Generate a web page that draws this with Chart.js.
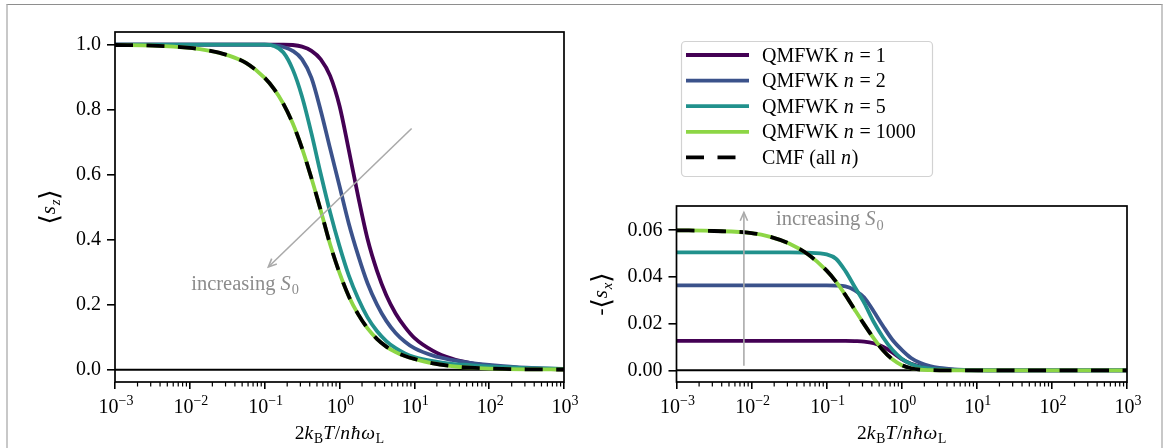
<!DOCTYPE html>
<html><head><meta charset="utf-8">
<script src="https://cdn.jsdelivr.net/npm/chart.js@4.4.1/dist/chart.umd.min.js"></script>
<style>
html,body{margin:0;padding:0;background:#fff;}
body{width:1167px;height:448px;overflow:hidden;position:relative;}
#frame{position:absolute;left:6px;top:4px;width:1153px;height:470px;border-top:1px solid #8e8e8e;border-left:2px solid #c8c8c8;border-right:2px solid #c8c8c8;}
.wrap{position:absolute;top:0;height:448px;}
</style></head>
<body>
<div id="frame"></div>
<div class="wrap" style="left:0;width:600px"><canvas id="c1"></canvas></div>
<div class="wrap" style="left:570px;width:597px"><canvas id="c2"></canvas></div>
<script>
// ---------- data ----------
const T = [0.001,0.00316,0.01,0.0178,0.0316,0.0562,0.1,0.133,0.178,0.237,0.316,0.422,0.562,0.75,1,1.33,1.78,2.37,3.16,4.22,5.62,7.5,10,17.8,31.6,56.2,100,316,1000];

const SZ_N1    = [1.000,1.000,1.000,1.000,1.000,1.000,1.000,1.000,1.000,0.999,0.994,0.981,0.955,0.904,0.812,0.676,0.532,0.402,0.305,0.229,0.173,0.131,0.098,0.058,0.034,0.020,0.012,0.004,0.001];
const SZ_N2    = [1.000,1.000,1.000,1.000,1.000,1.000,1.000,0.998,0.993,0.981,0.955,0.898,0.797,0.680,0.565,0.450,0.351,0.266,0.201,0.150,0.113,0.086,0.066,0.043,0.030,0.021,0.015,0.006,0.002];
const SZ_N5    = [1.000,1.000,1.000,1.000,1.000,1.000,1.000,0.996,0.976,0.924,0.840,0.727,0.602,0.484,0.380,0.290,0.218,0.161,0.119,0.088,0.066,0.050,0.039,0.026,0.018,0.014,0.010,0.005,0.002];
const SZ_N1000 = [0.999,0.997,0.990,0.982,0.968,0.944,0.898,0.864,0.818,0.758,0.681,0.589,0.490,0.385,0.298,0.226,0.170,0.127,0.095,0.071,0.054,0.042,0.033,0.019,0.011,0.006,0.0034,0.0011,0.0004];
const SZ_CMF   = [0.999,0.997,0.990,0.982,0.968,0.944,0.898,0.864,0.818,0.758,0.681,0.589,0.490,0.385,0.298,0.226,0.170,0.127,0.095,0.071,0.054,0.042,0.033,0.019,0.011,0.006,0.0034,0.0011,0.0004];

const SX_N1    = [0.0126,0.0126,0.0126,0.0126,0.0126,0.0126,0.0126,0.0126,0.0126,0.0125,0.0123,0.0116,0.0101,0.0077,0.0048,0.0028,0.0016,0.0009,0.0005,0.0003,0.0002,0.0001,0,0,0,0,0,0,0];
const SX_N2    = [0.0364,0.0364,0.0364,0.0364,0.0364,0.0364,0.0364,0.0363,0.0360,0.0343,0.0312,0.0253,0.0190,0.0131,0.0088,0.0053,0.0031,0.0018,0.0010,0.0006,0.0003,0.0002,0.0001,0,0,0,0,0,0];
const SX_N5    = [0.0505,0.0505,0.0505,0.0505,0.0505,0.0504,0.0497,0.0478,0.0425,0.0357,0.0289,0.0208,0.0142,0.0088,0.0050,0.0027,0.0014,0.0007,0.0004,0.0002,0.0001,0,0,0,0,0,0,0,0];
const SX_N1000 = [0.0600,0.0597,0.0588,0.0572,0.0543,0.0497,0.0427,0.0380,0.0322,0.0259,0.0197,0.0138,0.0086,0.0047,0.0022,0.0009,0.0003,0.0001,0,0,0,0,0,0,0,0,0,0,0];
const SX_CMF   = [0.0600,0.0597,0.0588,0.0572,0.0543,0.0497,0.0427,0.0380,0.0322,0.0259,0.0197,0.0138,0.0086,0.0047,0.0022,0.0009,0.0003,0.0001,0,0,0,0,0,0,0,0,0,0,0];

const X_TICKS  = [0.001,0.01,0.1,1,10,100,1000];
const SZ_TICKS = [0,0.2,0.4,0.6,0.8,1.0];
const SX_TICKS = [0,0.02,0.04,0.06];

const LABELS = ['QMFWK $n$ = 1','QMFWK $n$ = 2','QMFWK $n$ = 5','QMFWK $n$ = 1000','CMF (all $n$)'];
const COLORS = ['#440154','#3b528b','#21918c','#8dd645','#000000'];

// ---------- text helpers ----------
const FONT = "'Liberation Serif','DejaVu Serif',serif";
function partsOf(segs, size){
  return segs.map(([t,s])=>{
    const p={t, it:false, fs:size, dy:0, fam:FONT, gap:0};
    if(s[0]==='i') p.it=true;
    if(s[1]==='s'){p.fs=size*0.7; p.dy=size*0.22;}
    if(s[1]==='p'){p.fs=size*0.7; p.dy=-size*0.42;}
    if(s==='b'){p.fs=size*1.25; p.fam="'DejaVu Serif',serif"; p.dy=size*0.12;}
    if(s[0]==='i' && s.length===1) p.gap=size*0.04;
    return p;
  });
}
function fontOf(p){ return (p.it?'italic ':'')+p.fs+'px '+p.fam; }
function drawRich(ctx, segs, x, y, size, color, align){
  const ps=partsOf(segs,size);
  ctx.save(); ctx.fillStyle=color; ctx.textBaseline='alphabetic'; ctx.textAlign='left';
  let w=0; ps.forEach(p=>{ctx.font=fontOf(p); p.w=ctx.measureText(p.t).width+p.gap; w+=p.w;});
  let cx = align==='center'? x-w/2 : (align==='right'? x-w : x);
  ps.forEach(p=>{ctx.font=fontOf(p); ctx.fillText(p.t,cx,y+p.dy); cx+=p.w;});
  ctx.restore(); return w;
}
function labelSegs(str){
  return str.split('$').map((t,i)=>[t, i%2? 'i':'r']).filter(s=>s[0].length);
}

const X_TITLE = [['2','r'],['k','i'],['B','rs'],['T','i'],['/','r'],['n','i'],['\u0127','i'],['\u03c9','i'],['L','rs']];
const SZ_TITLE = [['\u27e8','b'],['s','i'],['z','is'],['\u27e9','b']];
const SX_TITLE = [['-','r'],['\u27e8','b'],['s','i'],['x','is'],['\u27e9','b']];
const ANNOT_TEXT = [['increasing ','r'],['S','i'],['0','rs']];

// ---------- plugins ----------
const axesDeco = {
  id:'axesDeco',
  afterDatasetsDraw(chart, args, o){
    const ctx=chart.ctx, a=chart.chartArea, xs=chart.scales.x, ys=chart.scales.y;
    ctx.save();
    ctx.strokeStyle='#aaaaaa'; ctx.lineWidth=1.6; ctx.lineCap='butt';
    const [fx,fy]=o.arrowFrom, [tx,ty]=o.arrowTo;
    const x1=xs.getPixelForValue(fx), y1=ys.getPixelForValue(fy), x2=xs.getPixelForValue(tx), y2=ys.getPixelForValue(ty);
    ctx.beginPath(); ctx.moveTo(x1,y1); ctx.lineTo(x2,y2); ctx.stroke();
    const ang=Math.atan2(y2-y1,x2-x1), L=9, h=0.42;
    ctx.beginPath();
    ctx.moveTo(x2-L*Math.cos(ang-h), y2-L*Math.sin(ang-h)); ctx.lineTo(x2,y2);
    ctx.lineTo(x2-L*Math.cos(ang+h), y2-L*Math.sin(ang+h)); ctx.stroke();
    drawRich(ctx, ANNOT_TEXT, xs.getPixelForValue(o.textAt[0]), ys.getPixelForValue(o.textAt[1])+6, 20.5, '#8c8c8c', 'center');
    ctx.strokeStyle='#000'; ctx.lineWidth=1.7;
    ctx.strokeRect(a.left, a.top, a.right-a.left, a.bottom-a.top);
    ctx.lineWidth=1.2;
    for(let d=-3; d<3; d++){
      for(let k=2;k<10;k++){
        const px=xs.getPixelForValue(k*Math.pow(10,d));
        ctx.beginPath(); ctx.moveTo(px,a.bottom); ctx.lineTo(px,a.bottom+4.5); ctx.stroke();
      }
    }
    xs.ticks.forEach(t=>{
      const px=xs.getPixelForValue(t.value);
      const e=Math.round(Math.log10(t.value));
      drawRich(ctx, [['10','r'],[(e<0?'\u2212':'')+Math.abs(e),'rp']], px+1, 413, 20, '#000', 'center');
    });
    drawRich(ctx, X_TITLE, (a.left+a.right)/2, 439, 19.5, '#000', 'center');
    ctx.translate(o.yTitleX, (a.top+a.bottom)/2);
    ctx.rotate(-Math.PI/2);
    drawRich(ctx, o.yTitle, 0, 7, 21, '#000', 'center');
    ctx.restore();
  }
};

const boxLegend = {
  id:'boxLegend',
  afterDraw(chart, args, o){
    if(!o.show) return;
    const ctx=chart.ctx;
    ctx.save();
    ctx.fillStyle='rgba(255,255,255,0.85)'; ctx.strokeStyle='#d2d2d2'; ctx.lineWidth=1.2;
    ctx.beginPath(); ctx.roundRect(o.x+0.5,o.y+0.5,o.w,o.h,4); ctx.fill(); ctx.stroke();
    let row=0;
    chart.data.datasets.forEach(ds=>{
      if(!ds.label) return;
      const cy=o.y+14+row*25.6;
      ctx.strokeStyle=ds.borderColor; ctx.lineWidth=ds.borderWidth; ctx.lineCap='butt';
      ctx.setLineDash(ds.borderDash||[]);
      ctx.beginPath(); ctx.moveTo(o.x+5,cy); ctx.lineTo(o.x+68,cy); ctx.stroke();
      ctx.setLineDash([]);
      drawRich(ctx, labelSegs(ds.label), o.x+81, cy+6.5, 20, '#000', 'left');
      row++;
    });
    ctx.restore();
  }
};

// ---------- chart builder ----------
function series(vals){ return T.map((t,i)=>({x:t,y:vals[i]})); }
function datasets(arrs){
  const ds = arrs.map((v,i)=>({
    label:LABELS[i], data:series(v), borderColor:COLORS[i], backgroundColor:COLORS[i],
    borderWidth:3.8, pointRadius:0, cubicInterpolationMode:'monotone', fill:false,
    borderDash: i===4 ? [18,13.5] : [], order: 4-i
  }));
  ds.push({label:'', data:[{x:X_TICKS[0],y:0},{x:X_TICKS[X_TICKS.length-1],y:0}], borderColor:'#000', borderWidth:2, pointRadius:0, order:10});
  return ds;
}
function makeChart(id, arrs, yMin, yMax, yTicks, dec, pad, yWidth, deco, legend){
  return new Chart(document.getElementById(id), {
    type:'line',
    data:{datasets:datasets(arrs)},
    options:{
      responsive:true, maintainAspectRatio:false, animation:false, events:[],
      layout:{padding:pad, autoPadding:false},
      scales:{
        x:{type:'logarithmic', min:X_TICKS[0], max:X_TICKS[X_TICKS.length-1],
           afterBuildTicks:s=>{s.ticks=X_TICKS.map(v=>({value:v}));},
           afterFit:s=>{s.height=66;},
           border:{display:false},
           grid:{drawOnChartArea:false, drawTicks:true, tickLength:7, color:'#000', lineWidth:1.6},
           ticks:{display:false}},
        y:{type:'linear', min:yMin, max:yMax,
           afterBuildTicks:s=>{s.ticks=yTicks.map(v=>({value:v}));},
           afterFit:s=>{s.width=yWidth;},
           border:{display:false},
           grid:{drawOnChartArea:false, drawTicks:true, tickLength:8, color:'#000', lineWidth:1.6},
           ticks:{color:'#000', padding:6, font:{family:FONT,size:20}, callback:v=>Number(v).toFixed(dec)}}
      },
      plugins:{legend:{display:false}, tooltip:{enabled:false}, axesDeco:deco, boxLegend:legend}
    },
    plugins:[axesDeco, boxLegend]
  });
}

makeChart('c1', [SZ_N1,SZ_N2,SZ_N5,SZ_N1000,SZ_CMF], -0.038, 1.039, SZ_TICKS, 1,
  {left:0, top:32, right:36, bottom:0}, 115,
  {arrowFrom:[9.2,0.742], arrowTo:[0.112,0.316], textAt:[0.0546,0.265], yTitle:SZ_TITLE, yTitleX:48},
  {show:false});

makeChart('c2', [SX_N1,SX_N2,SX_N5,SX_N1000,SX_CMF], -0.005, 0.0704, SX_TICKS, 2,
  {left:0, top:206, right:40, bottom:0}, 106.5,
  {arrowFrom:[0.0079,0.002], arrowTo:[0.0079,0.0676], textAt:[0.11,0.0647], yTitle:SX_TITLE, yTitleX:30},
  {show:true, x:111, y:41, w:251, h:135});
</script>
</body></html>
